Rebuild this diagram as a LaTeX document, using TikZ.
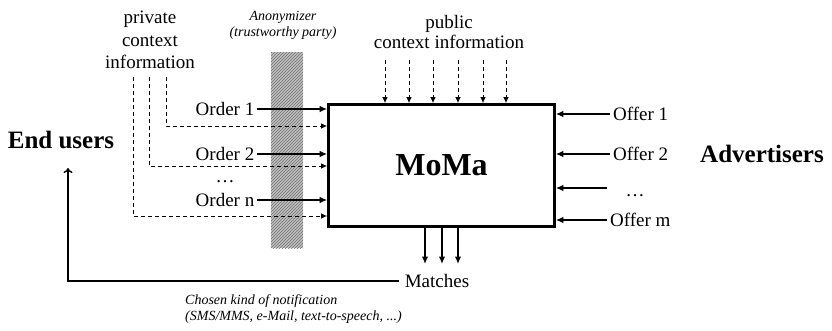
\documentclass[tikz,border=0pt]{standalone}
\usepackage{fontspec}
\setmainfont{Liberation Serif}
\usetikzlibrary{arrows.meta,patterns}

\begin{document}
\begin{tikzpicture}[x=1pt, y=-1pt,
  txt/.style={font=\fontsize{19}{22}\selectfont, inner sep=3pt},
  note/.style={font=\fontsize{14}{16}\selectfont\itshape, inner sep=0pt},
  party/.style={font=\fontsize{25}{28}\selectfont\bfseries, inner sep=0pt},
  flow/.style={-{Latex[length=7.5pt,width=6.5pt]}, line width=1.4pt},
  ctx/.style={-{Latex[length=6pt,width=5.5pt]}, line width=1pt, dash pattern=on 4pt off 3pt}]

\useasboundingbox (0,0) rectangle (832,330);

\newcommand{\dashy}{77}
\newcommand{\offerx}{607}

% anonymizer strip
\fill[gray!50] (271,52) rectangle (303,248);
\fill[pattern=north east lines, pattern color=gray!90!black] (271,52) rectangle (303,248);
\node[note, align=center] (anon) at (283,25) {Anonymizer\\(trustworthy party)};

% matching platform
\node[draw, line width=2.6pt, minimum width=226pt, minimum height=122pt,
  font=\fontsize{32}{34}\selectfont\bfseries] (moma) at (441.5,165.5) {MoMa};

% the two parties
\node[party] (users) at (61,140) {End users};
\node[party] (adv) at (762,154) {Advertisers};

% private context, fed in beside each order
\node[txt, align=center, font=\fontsize{19}{22.5}\selectfont] (priv) at (150,40) {private\\context\\information};
\coordinate (pc1) at (166,\dashy);
\coordinate (pc2) at (149,\dashy);
\coordinate (pc3) at (133,\dashy);
\draw[ctx] (pc1) |- (moma.west |- 0,126);
\draw[ctx] (pc2) |- (moma.west |- 0,166);
\draw[ctx] (pc3) |- (moma.west |- 0,216);

% orders
\node[txt] (o1) at (225,109) {Order 1};
\node[txt] (o2) at (225,154) {Order 2};
\node[txt] (odots) at (225,182) {\dots};
\node[txt] (on) at (225,200) {Order n};
\foreach \o in {o1,o2,on}
  \draw[flow] (\o.east) -- (\o -| moma.west);

% public context
\node[txt, align=center, font=\fontsize{19}{19.5}\selectfont] (pub) at (449,32) {public\\context information};
\foreach \x in {385,409,433,458,483,506}
  \draw[ctx] (\x,60) -- (moma.north -| \x,0);

% offers
\node[txt, anchor=west] (of1) at (610,114) {Offer 1};
\node[txt, anchor=west] (of2) at (610,154) {Offer 2};
\node[txt] (ofdots) at (635,196) {\dots};
\node[txt, anchor=west] (ofm) at (607,220) {Offer m};
\coordinate (of3) at (\offerx,188);
\draw[flow] (of1.west) -- (of1 -| moma.east);
\draw[flow] (of2.west) -- (of2 -| moma.east);
\draw[flow] (of3) -- (of3 -| moma.east);
\draw[flow] (ofm.west) -- (ofm -| moma.east);

% matches and notification back to the users
\node[txt, inner sep=6pt] (mat) at (437,281) {Matches};
\foreach \x in {425,442,458}
  \draw[flow] (moma.south -| \x,0) -- (\x,264);
\coordinate (notif) at (68,168);
\draw[-{To[length=5pt,width=9pt]}, line width=1.4pt] (mat.west) -| (notif);
\node[note, anchor=north west, align=left] (kind) at (185,294)
  {Chosen kind of notification\\(SMS/MMS, e-Mail, text-to-speech, ...)};

\end{tikzpicture}
\end{document}
